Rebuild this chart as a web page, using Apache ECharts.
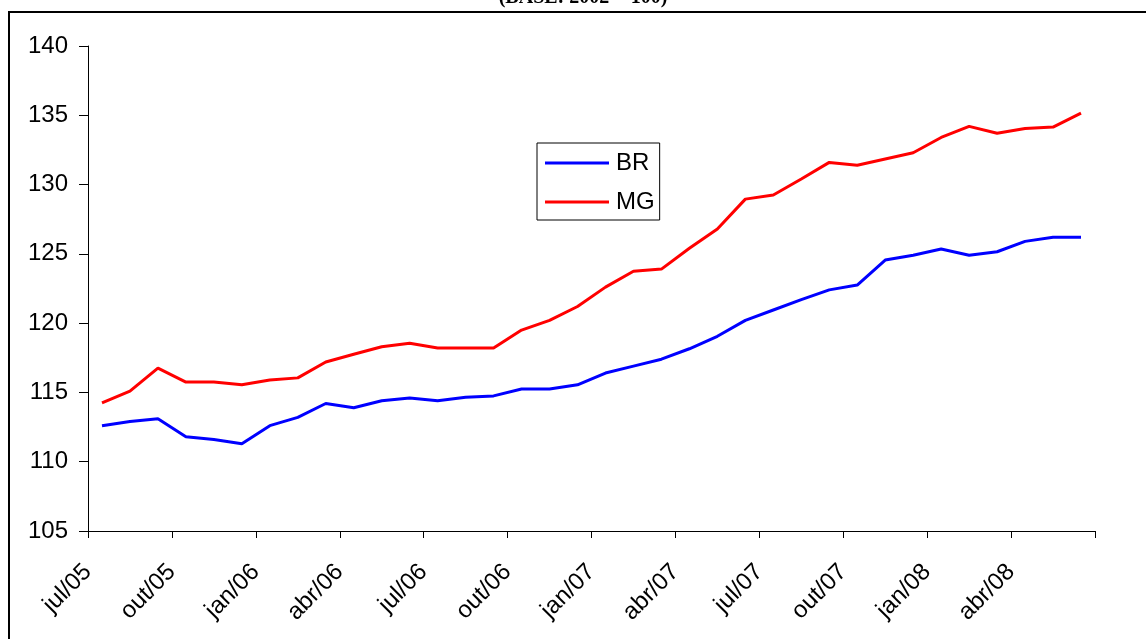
<!DOCTYPE html>
<html>
<head>
<meta charset="utf-8">
<script src="https://cdn.jsdelivr.net/npm/echarts@6/dist/echarts.min.js"></script>
<style>
html,body{margin:0;padding:0;background:#fff;}
#chart{width:1146px;height:639px;}
</style>
</head>
<body>
<div id="chart"></div>
<script>
var categories = ['jul/05','ago/05','set/05','out/05','nov/05','dez/05',
  'jan/06','fev/06','mar/06','abr/06','mai/06','jun/06',
  'jul/06','ago/06','set/06','out/06','nov/06','dez/06',
  'jan/07','fev/07','mar/07','abr/07','mai/07','jun/07',
  'jul/07','ago/07','set/07','out/07','nov/07','dez/07',
  'jan/08','fev/08','mar/08','abr/08','mai/08','jun/08'];
var brValues = [112.6,112.9,113.1,111.8,111.6,111.3,112.6,113.2,114.2,113.9,114.4,114.6,
  114.4,114.65,114.75,115.25,115.25,115.55,116.4,116.9,117.4,118.15,119.05,120.2,
  120.95,121.7,122.4,122.75,124.55,124.9,125.35,124.9,125.15,125.9,126.2,126.2];
var mgValues = [114.25,115.1,116.75,115.75,115.75,115.55,115.9,116.05,117.2,117.75,118.3,118.55,
  118.2,118.2,118.2,119.5,120.2,121.2,122.6,123.75,123.9,125.4,126.8,128.95,
  129.25,130.4,131.6,131.4,131.85,132.3,133.4,134.2,133.7,134.05,134.15,135.15];
var yTicks = [105,110,115,120,125,130,135,140];
var titleText = '(BASE: 2002 = 100)';

var FONT = 'Arial, "Liberation Sans", sans-serif';
var chart = echarts.init(document.getElementById('chart'), null, {renderer:'canvas'});
chart.setOption({
  backgroundColor:'#fff',
  animation:false,
  graphic:[
    {type:'rect', shape:{x:9, y:12, width:1300, height:800}, style:{fill:'none', stroke:'#000', lineWidth:2}, z:0},
    {type:'text', x:583, y:8, style:{text:titleText, font:'bold 20px "Liberation Serif", "Times New Roman", serif', fill:'#000', textAlign:'center', textVerticalAlign:'bottom'}, z:10}
  ],
  grid:{left:88, right:51, top:46, bottom:108, containLabel:false},
  legend:{
    orient:'vertical', left:537, top:143,
    data:['BR','MG'],
    icon:'rect', itemWidth:64, itemHeight:3, itemGap:15,
    borderColor:'#000', borderWidth:1, padding:[8,5,6,8],
    backgroundColor:'#fff',
    textStyle:{fontSize:24, lineHeight:24, color:'#000', fontFamily:FONT, padding:[0,0,0,2]}
  },
  xAxis:{
    type:'category', data:categories, boundaryGap:true,
    axisLine:{lineStyle:{color:'#000', width:1}},
    axisTick:{show:true, interval:2, length:7, lineStyle:{color:'#000'}},
    axisLabel:{interval:2, rotate:45, fontSize:24, color:'#000', fontFamily:FONT, margin:23, padding:[0,20,0,0]},
    splitLine:{show:false}
  },
  yAxis:{
    type:'value', min:yTicks[0], max:yTicks[yTicks.length-1], interval:5,
    axisLine:{show:true, lineStyle:{color:'#000', width:1}},
    axisTick:{show:true, length:9, lineStyle:{color:'#000'}},
    axisLabel:{fontSize:24, color:'#000', fontFamily:FONT, margin:20},
    splitLine:{show:false}
  },
  series:[
    {name:'BR', type:'line', data:brValues, showSymbol:false, symbol:'none',
     lineStyle:{color:'#0000FF', width:3}, itemStyle:{color:'#0000FF'}},
    {name:'MG', type:'line', data:mgValues, showSymbol:false, symbol:'none',
     lineStyle:{color:'#FF0000', width:3}, itemStyle:{color:'#FF0000'}}
  ]
});
</script>
</body>
</html>
